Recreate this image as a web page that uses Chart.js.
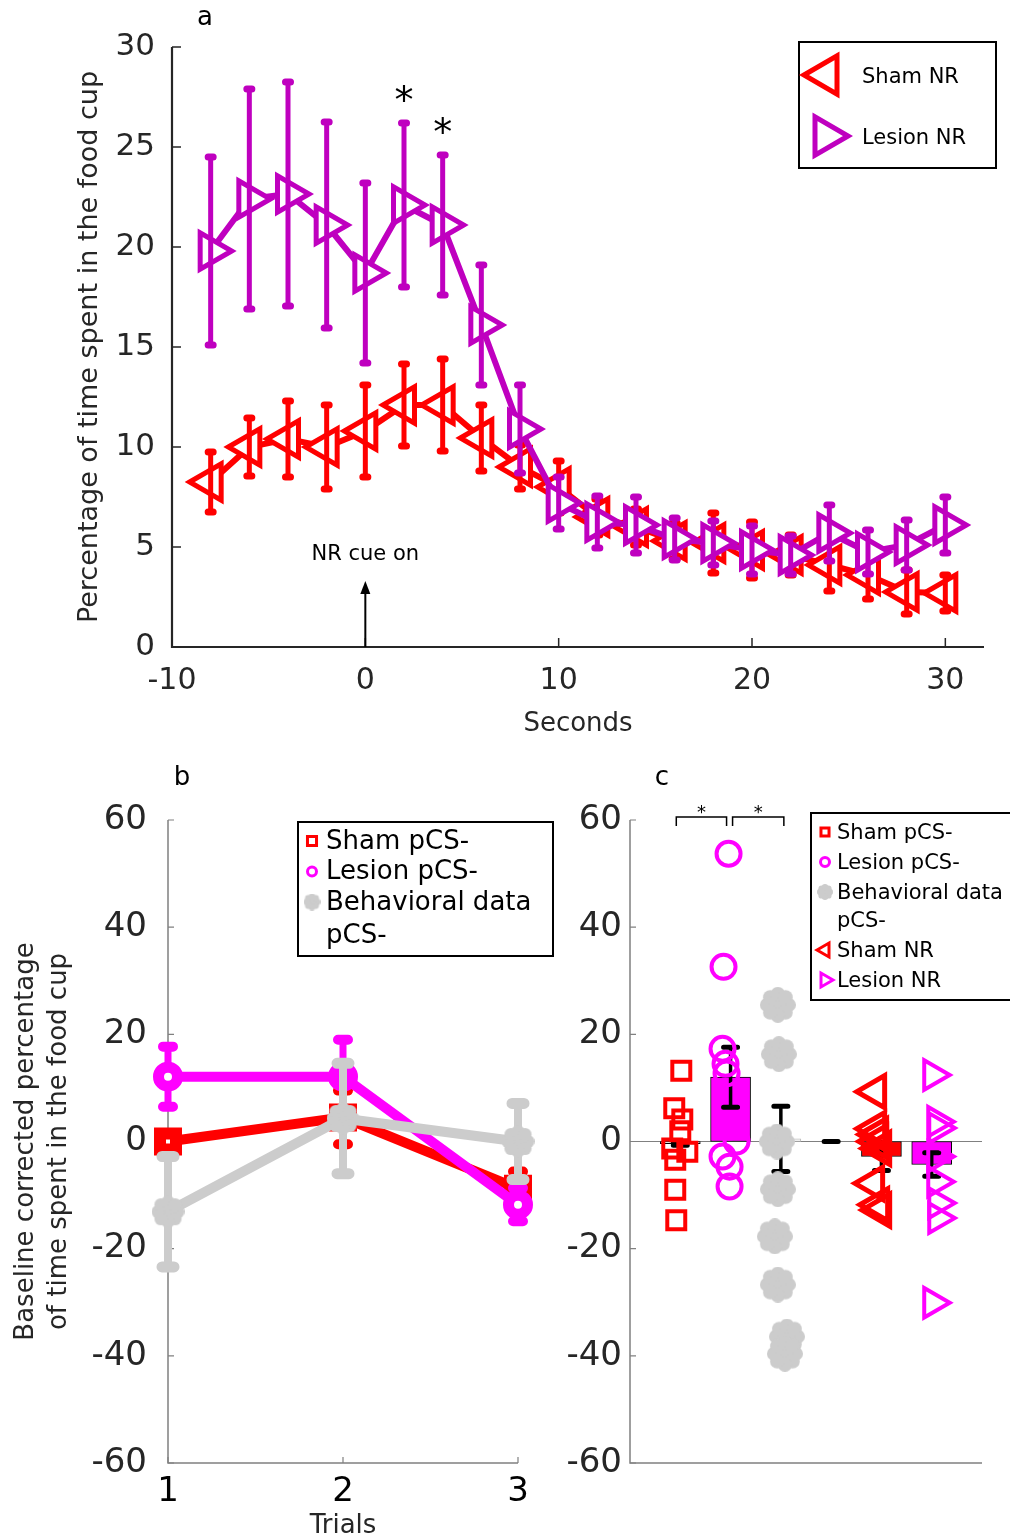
<!DOCTYPE html>
<html>
<head>
<meta charset="utf-8">
<script src="https://cdn.jsdelivr.net/npm/chart.js@4.4.1/dist/chart.umd.min.js"></script>
<style>
  html, body { margin: 0; padding: 0; background: #fff; }
  body { width: 1010px; height: 1539px; position: relative; overflow: hidden; }
  .panel { position: absolute; }
</style>
</head>
<body>
<div class="panel" style="left:0;top:0;width:1010px;height:745px"><canvas id="chartA"></canvas></div>
<div class="panel" style="left:0;top:745px;width:560px;height:794px"><canvas id="chartB"></canvas></div>
<div class="panel" style="left:560px;top:745px;width:450px;height:794px"><canvas id="chartC"></canvas></div>
<script>
// --- a: time in food cup around the NR cue (mean, sem) ---
const seconds = [-8, -6, -4, -2, 0, 2, 4, 6, 8, 10, 12, 14, 16, 18, 20, 22, 24, 26, 28, 30];
const shamNR = [8.25, 10.0, 10.4, 10.0, 10.8, 12.1, 12.1, 10.45, 9.0, 8.0, 6.5, 6.0, 5.3, 5.2, 4.85, 4.6, 4.1, 3.6, 2.75, 2.7];
const shamNRErr = [1.5, 1.45, 1.9, 2.1, 2.3, 2.05, 2.3, 1.65, 1.1, 1.3, 0.9, 0.9, 0.9, 1.5, 1.4, 1.0, 1.3, 1.2, 1.1, 0.9];
const lesionNR = [19.8, 22.4, 22.65, 21.1, 18.7, 22.1, 21.1, 16.1, 10.9, 7.2, 6.25, 6.1, 5.4, 5.2, 4.85, 4.6, 5.7, 4.75, 5.1, 6.1];
const lesionNRErr = [4.7, 5.5, 5.6, 5.15, 4.5, 4.1, 3.5, 3.0, 2.2, 1.3, 1.3, 1.4, 1.05, 1.1, 1.2, 0.95, 1.4, 1.1, 1.25, 1.4];
const secondsTicks = [-10, 0, 10, 20, 30];
const percentTicks = [0, 5, 10, 15, 20, 25, 30];
const starSeconds = [2, 4];
const cueSecond = 0;

// --- b: baseline corrected, per trial ---
const trials = [1, 2, 3];
const shamPCS = [0.0, 4.5, -8.8];
const shamPCSErr = [0.8, 5.0, 3.2];
const lesionPCS = [12.1, 12.1, -11.8];
const lesionPCSErr = [5.6, 6.9, 3.1];
const behavPCS = [-13.1, 4.3, 0.0];
const behavPCSErr = [10.3, 10.3, 7.1];
const trialTicks = [1, 2, 3];
const baselineTicks = [-60, -40, -20, 0, 20, 40, 60];

// --- c: group means and single animals ---
const groupNames = ['Sham pCS-', 'Lesion pCS-', 'Behavioral data pCS-', '', 'Sham NR', 'Lesion NR'];
const groupMean = [-0.4, 12.0, 0.5, 0, -2.8, -4.3];
const groupErr = [0.3, 5.6, 6.1, 0, 2.6, 2.2];
const shamPCSPts = [13.2, 6.2, 4.1, 1.9, -1.3, -1.9, -3.4, -9.0, -14.7];
const shamPCSJit = [0.02, -0.12, 0.04, 0, -0.16, 0.14, -0.1, -0.1, -0.08];
const lesionPCSPts = [53.7, 32.6, 17.3, 14.5, 12.7, 2.8, 0, -2.8, -4.7, -8.4];
const lesionPCSJit = [-0.04, -0.14, -0.16, -0.1, -0.08, -0.02, 0.12, -0.16, -0.02, -0.02];
const behavPCSPts = [25.5, 16.3, 0, -8.9, -17.7, -26.7, -36.4, -39.6];
const behavPCSJit = [-0.06, -0.04, -0.08, -0.06, -0.12, -0.06, 0.12, 0.08];
const shamNRPts = [9.3, 2.4, 1.3, 0, -1.3, -7.8, -11.8, -12.8];
const shamNRJit = [-0.12, -0.12, -0.08, -0.08, -0.02, -0.16, -0.06, -0.02];
const lesionNRPts = [12.4, 3.7, 2.5, -2.8, -7.5, -11.5, -14.3, -30.1];
const lesionNRJit = [0.02, 0.1, 0.12, 0.1, 0.1, 0.12, 0.12, 0.02];
const sigPairs = [[1, 2], [2, 3]];

const FONT = '"DejaVu Sans", Verdana, sans-serif';
const INK = '#262626';
const RED = '#ff0000', PURPLE = '#bf00bf', MAGENTA = '#ff00ff', GREY = '#cccccc';

Chart.defaults.font.family = FONT;
Chart.defaults.color = INK;

// filled "blob" marker used for the behavioral data
function flower(size, color) {
  const c = document.createElement('canvas');
  c.width = c.height = size;
  const g = c.getContext('2d');
  const m = size / 2, lobe = size * 0.2, d = m - lobe;
  g.fillStyle = color;
  g.beginPath(); g.arc(m, m, d * 0.95, 0, Math.PI * 2); g.fill();
  for (let k = 0; k < 8; k++) {
    const a = k * Math.PI / 4;
    g.beginPath(); g.arc(m + d * Math.cos(a), m + d * Math.sin(a), lobe, 0, Math.PI * 2); g.fill();
  }
  return c;
}

function drawMarker(ctx, style, x, y, r, rot, fill, stroke, bw) {
  ctx.save();
  if (style instanceof HTMLCanvasElement) {
    ctx.drawImage(style, x - style.width / 2, y - style.height / 2);
    ctx.restore();
    return;
  }
  ctx.beginPath();
  if (style === 'circle') ctx.arc(x, y, r, 0, Math.PI * 2);
  else if (style === 'rect') { const h = r * Math.SQRT1_2; ctx.rect(x - h, y - h, 2 * h, 2 * h); }
  else {
    let a = rot * Math.PI / 180;
    for (let k = 0; k < 3; k++) {
      const px = x + Math.sin(a) * r, py = y - Math.cos(a) * r;
      if (k) ctx.lineTo(px, py); else ctx.moveTo(px, py);
      a += 2 * Math.PI / 3;
    }
    ctx.closePath();
  }
  ctx.fillStyle = fill; ctx.fill();
  ctx.lineWidth = bw; ctx.strokeStyle = stroke; ctx.stroke();
  ctx.restore();
}

// vertical error bars with round caps, read from dataset.errors
function drawErrors(chart, i) {
  const ds = chart.data.datasets[i];
  if (!ds.errors) return;
  const y = chart.scales.y, ctx = chart.ctx;
  ctx.save();
  ctx.strokeStyle = ds.errColor;
  ctx.lineCap = 'round';
  chart.getDatasetMeta(i).data.forEach((el, k) => {
    const v = ds.data[k].y, e = ds.errors[k];
    const top = y.getPixelForValue(v + e), bot = y.getPixelForValue(v - e);
    ctx.lineWidth = ds.errWidth;
    ctx.beginPath(); ctx.moveTo(el.x, top); ctx.lineTo(el.x, bot); ctx.stroke();
    ctx.lineWidth = ds.capWidth;
    ctx.beginPath();
    ctx.moveTo(el.x - ds.capLen, top); ctx.lineTo(el.x + ds.capLen, top);
    ctx.moveTo(el.x - ds.capLen, bot); ctx.lineTo(el.x + ds.capLen, bot);
    ctx.stroke();
  });
  ctx.restore();
}

const errorBars = {
  id: 'errorBars',
  beforeDatasetDraw(chart, args) { if (!chart.data.datasets[args.index].errOnTop) drawErrors(chart, args.index); },
  afterDatasetDraw(chart, args) { if (chart.data.datasets[args.index].errOnTop) drawErrors(chart, args.index); }
};

// axis lines with ticks pointing into the plot
const matAxes = {
  id: 'matAxes',
  beforeDatasetsDraw(chart, args, o) {
    const { ctx, chartArea: a, scales: { x, y } } = chart;
    ctx.save();
    ctx.strokeStyle = o.color;
    ctx.lineWidth = o.width;
    ctx.beginPath();
    ctx.moveTo(a.left, a.top); ctx.lineTo(a.left, a.bottom); ctx.lineTo(a.right, a.bottom);
    ctx.stroke();
    ctx.lineWidth = o.tickWidth;
    ctx.beginPath();
    y.ticks.forEach(t => { const py = y.getPixelForValue(t.value); ctx.moveTo(a.left, py); ctx.lineTo(a.left + o.tickLen, py); });
    if (o.xTicks) x.ticks.forEach(t => { const px = x.getPixelForValue(t.value); ctx.moveTo(px, a.bottom); ctx.lineTo(px, a.bottom - o.tickLen); });
    ctx.stroke();
    ctx.restore();
  }
};

// boxed legend drawn from the dataset labels and markers
const boxLegend = {
  id: 'boxLegend',
  afterDraw(chart, args, o) {
    const ctx = chart.ctx;
    ctx.save();
    ctx.fillStyle = '#fff';
    ctx.fillRect(o.x, o.y, o.w, o.h);
    ctx.lineWidth = 2; ctx.strokeStyle = '#000';
    ctx.strokeRect(o.x, o.y, o.w, o.h);
    ctx.font = o.size + 'px ' + FONT;
    ctx.textBaseline = 'middle';
    let yy = o.y + o.first;
    chart.data.datasets.forEach(ds => {
      if (!ds.label || ds.type === 'bar') return;
      const style = ds.legendImage || ds.pointStyle;
      drawMarker(ctx, style, o.x + o.mx, yy, o.r[style] || 0, ds.pointRotation || 0, '#fff', ds.pointBorderColor, o.bw);
      const lines = ds.label.split('\n');
      ctx.fillStyle = '#000';
      lines.forEach((line, k) => ctx.fillText(line, o.x + o.tx, yy + o.textDy + k * o.gap));
      yy += o.row + (lines.length - 1) * o.gap;
    });
    ctx.restore();
  }
};

Chart.register(errorBars, matAxes, boxLegend);

function tickFix(list) { return s => { s.ticks = list.map(v => ({ value: v })); }; }
function xy(xs, ys) { return xs.map((v, k) => ({ x: v, y: ys[k] })); }

const base = {
  responsive: true, maintainAspectRatio: false, animation: false, devicePixelRatio: 1,
  events: []
};

// ================= a =================
new Chart(document.getElementById('chartA'), {
  type: 'scatter',
  data: {
    datasets: [
      {
        label: 'Sham NR', data: xy(seconds, shamNR), errors: shamNRErr, errOnTop: true,
        showLine: true, borderColor: RED, borderWidth: 6, clip: false, order: 2,
        pointStyle: 'triangle', pointRotation: -90, pointRadius: 21, pointBorderWidth: 5,
        pointBorderColor: RED, pointBackgroundColor: '#fff',
        errColor: RED, errWidth: 5, capWidth: 7, capLen: 2.5
      },
      {
        label: 'Lesion NR', data: xy(seconds, lesionNR), errors: lesionNRErr, errOnTop: true,
        showLine: true, borderColor: PURPLE, borderWidth: 6, clip: false, order: 1,
        pointStyle: 'triangle', pointRotation: 90, pointRadius: 21, pointBorderWidth: 5,
        pointBorderColor: PURPLE, pointBackgroundColor: '#fff',
        errColor: PURPLE, errWidth: 5, capWidth: 7, capLen: 2.5
      }
    ]
  },
  options: {
    ...base,
    layout: { padding: { left: 0, top: 47, right: 22, bottom: 0 } },
    plugins: {
      legend: { display: false }, tooltip: { enabled: false },
      matAxes: { color: INK, width: 2.2, tickWidth: 1.5, tickLen: 9, xTicks: true },
      boxLegend: { x: 799, y: 42, w: 197, h: 126, first: 33, row: 61, gap: 0, textDy: 3, mx: 27, tx: 63, size: 21, r: { triangle: 22 }, bw: 5 }
    },
    scales: {
      x: {
        type: 'linear', min: -10, max: 32,
        afterBuildTicks: tickFix(secondsTicks),
        afterFit: s => { s.height = 745 - 647; },
        grid: { display: false, drawTicks: false }, border: { display: false },
        ticks: { padding: 16, font: { size: 30 }, color: INK },
        title: { display: true, text: 'Seconds', font: { size: 26 }, color: INK, padding: { top: 0, bottom: 5 } }
      },
      y: {
        min: 0, max: 30,
        afterBuildTicks: tickFix(percentTicks),
        afterFit: s => { s.width = 172; },
        grid: { display: false, drawTicks: false }, border: { display: false },
        ticks: { padding: 17, font: { size: 31 }, color: INK },
        title: { display: true, text: 'Percentage of time spent in the food cup', font: { size: 27 }, color: INK, padding: { top: 74, bottom: 0 } }
      }
    }
  },
  plugins: [{
    id: 'panelA',
    afterDraw(chart) {
      const { ctx, scales: { x, y } } = chart;
      ctx.save();
      ctx.fillStyle = '#000';
      ctx.font = '26px ' + FONT;
      ctx.textAlign = 'center';
      ctx.textBaseline = 'middle';
      ctx.fillText('a', 205, 18);
      // significance stars above the lesion error bars
      ctx.font = '38px ' + FONT;
      ctx.textBaseline = 'alphabetic';
      starSeconds.forEach(s => {
        const k = seconds.indexOf(s);
        const top = y.getPixelForValue(lesionNR[k] + lesionNRErr[k]);
        ctx.fillText('*', x.getPixelForValue(s), top - 10);
      });
      // cue onset arrow
      const cx = x.getPixelForValue(cueSecond);
      const y0 = y.getPixelForValue(0), y1 = y.getPixelForValue(3.3);
      ctx.strokeStyle = '#000'; ctx.lineWidth = 2;
      ctx.beginPath(); ctx.moveTo(cx, y0); ctx.lineTo(cx, y1 + 10); ctx.stroke();
      ctx.beginPath(); ctx.moveTo(cx, y1); ctx.lineTo(cx - 5, y1 + 13); ctx.lineTo(cx + 5, y1 + 13); ctx.closePath(); ctx.fill();
      ctx.font = '21px ' + FONT;
      ctx.textBaseline = 'middle';
      ctx.fillText('NR cue on', cx, y.getPixelForValue(4.6));
      ctx.restore();
    }
  }]
});

// ================= b =================
new Chart(document.getElementById('chartB'), {
  type: 'scatter',
  data: {
    datasets: [
      {
        label: 'Sham pCS-', data: xy(trials, shamPCS), errors: shamPCSErr,
        showLine: true, borderColor: RED, borderWidth: 10, clip: false, order: 3,
        pointStyle: 'rect', pointRadius: 11.3, pointBorderWidth: 12,
        pointBorderColor: RED, pointBackgroundColor: '#fff',
        errColor: RED, errWidth: 7, capWidth: 10, capLen: 5
      },
      {
        label: 'Lesion pCS-', data: xy(trials, lesionPCS), errors: lesionPCSErr,
        showLine: true, borderColor: MAGENTA, borderWidth: 10, clip: false, order: 2,
        pointStyle: 'circle', pointRadius: 9.5, pointBorderWidth: 11,
        pointBorderColor: MAGENTA, pointBackgroundColor: '#fff',
        errColor: MAGENTA, errWidth: 7, capWidth: 10, capLen: 5
      },
      {
        label: 'Behavioral data\npCS-', data: xy(trials, behavPCS), errors: behavPCSErr,
        showLine: true, borderColor: GREY, borderWidth: 10, clip: false, order: 1,
        pointStyle: flower(33, GREY), legendImage: flower(17, GREY), pointRadius: 16,
        pointBorderColor: GREY, pointBackgroundColor: GREY,
        errColor: GREY, errWidth: 8, capWidth: 11, capLen: 6
      }
    ]
  },
  options: {
    ...base,
    layout: { padding: { left: 0, top: 75, right: 42, bottom: 0 } },
    plugins: {
      legend: { display: false }, tooltip: { enabled: false },
      matAxes: { color: '#808080', width: 1.5, tickWidth: 1.2, tickLen: 6, xTicks: true },
      boxLegend: { x: 298, y: 77, w: 255, h: 134, first: 19, row: 30.5, gap: 33, textDy: 1, mx: 14, tx: 28, size: 26, r: { rect: 6.4, circle: 4.5 }, bw: 3 }
    },
    scales: {
      x: {
        type: 'linear', min: 1, max: 3,
        afterBuildTicks: tickFix(trialTicks),
        afterFit: s => { s.height = 794 - 718; },
        grid: { display: false, drawTicks: false }, border: { display: false },
        ticks: { padding: 9, font: { size: 34 }, color: '#000' },
        title: { display: true, text: 'Trials', font: { size: 26 }, color: INK, padding: { top: 0, bottom: -3 } }
      },
      y: {
        min: -60, max: 60,
        afterBuildTicks: tickFix(baselineTicks),
        afterFit: s => { s.width = 168; },
        grid: { display: false, drawTicks: false }, border: { display: false },
        ticks: { padding: 21, font: { size: 34 }, color: INK },
        title: {
          display: true, text: ['Baseline corrected percentage', 'of time spent in the food cup'],
          font: { size: 26, lineHeight: 1.27 }, color: INK, padding: { top: 10, bottom: 0 }
        }
      }
    }
  },
  plugins: [{
    id: 'panelB',
    afterDraw(chart) {
      const ctx = chart.ctx;
      ctx.save();
      ctx.fillStyle = '#000';
      ctx.font = '26px ' + FONT;
      ctx.textAlign = 'center';
      ctx.textBaseline = 'middle';
      ctx.fillText('b', 182, 33);
      ctx.restore();
    }
  }]
});

// ================= c =================
function jitter(pos, pts, jit) { return pts.map((v, k) => ({ x: pos + jit[k], y: v })); }
const posOf = name => groupNames.indexOf(name) + 1;

new Chart(document.getElementById('chartC'), {
  type: 'scatter',
  data: {
    datasets: [
      {
        type: 'bar', label: 'means', data: groupMean.map((v, k) => ({ x: k + 1, y: v })),
        errors: groupErr, errOnTop: true, order: 10,
        barThickness: 40, borderSkipped: false, borderWidth: 1,
        backgroundColor: ['#ffffff', MAGENTA, '#ffffff', 'rgba(0,0,0,0)', RED, MAGENTA],
        borderColor: ['#000000', '#000000', '#bbbbbb', 'rgba(0,0,0,0)', '#000000', '#000000'],
        errColor: '#000', errWidth: 3.5, capWidth: 5, capLen: 7
      },
      {
        label: 'Sham pCS-', data: jitter(posOf('Sham pCS-'), shamPCSPts, shamPCSJit), order: 5, clip: false,
        pointStyle: 'rect', pointRadius: 12.7, pointBorderWidth: 4,
        pointBorderColor: RED, pointBackgroundColor: 'rgba(255,255,255,0)'
      },
      {
        label: 'Lesion pCS-', data: jitter(posOf('Lesion pCS-'), lesionPCSPts, lesionPCSJit), order: 4, clip: false,
        pointStyle: 'circle', pointRadius: 12, pointBorderWidth: 4,
        pointBorderColor: MAGENTA, pointBackgroundColor: 'rgba(255,255,255,0)'
      },
      {
        label: 'Behavioral data\npCS-', data: jitter(posOf('Behavioral data pCS-'), behavPCSPts, behavPCSJit), order: 3, clip: false,
        pointStyle: flower(36, GREY), legendImage: flower(16, GREY), pointRadius: 18,
        pointBorderColor: GREY, pointBackgroundColor: GREY
      },
      {
        label: 'Sham NR', data: jitter(posOf('Sham NR'), shamNRPts, shamNRJit), order: 2, clip: false,
        pointStyle: 'triangle', pointRotation: -90, pointRadius: 18.5, pointBorderWidth: 5,
        pointBorderColor: RED, pointBackgroundColor: 'rgba(255,255,255,0)'
      },
      {
        label: 'Lesion NR', data: jitter(posOf('Lesion NR'), lesionNRPts, lesionNRJit), order: 1, clip: false,
        pointStyle: 'triangle', pointRotation: 90, pointRadius: 17, pointBorderWidth: 4,
        pointBorderColor: MAGENTA, pointBackgroundColor: 'rgba(255,255,255,0)'
      }
    ]
  },
  options: {
    ...base,
    layout: { padding: { left: 0, top: 75, right: 28, bottom: 0 } },
    plugins: {
      legend: { display: false }, tooltip: { enabled: false },
      matAxes: { color: '#808080', width: 1.5, tickWidth: 1.2, tickLen: 6, xTicks: false },
      boxLegend: { x: 251, y: 68, w: 205, h: 187, first: 19, row: 30, gap: 28, textDy: 2, mx: 14, tx: 26, size: 21, r: { rect: 5.7, circle: 4.5, triangle: 8 }, bw: 3 }
    },
    scales: {
      x: {
        type: 'linear', min: 0, max: 7, offset: false,
        afterFit: s => { s.height = 794 - 718; },
        grid: { display: false, drawTicks: false, offset: false }, border: { display: false },
        ticks: { display: false }
      },
      y: {
        min: -60, max: 60,
        afterBuildTicks: tickFix(baselineTicks),
        afterFit: s => { s.width = 70; },
        grid: { display: false, drawTicks: false }, border: { display: false },
        ticks: { padding: 8, font: { size: 34 }, color: INK }
      }
    }
  },
  plugins: [{
    id: 'zeroLine',
    beforeDatasetsDraw(chart) {
      const { ctx, chartArea: a, scales: { y } } = chart;
      const py = y.getPixelForValue(0);
      ctx.save();
      ctx.strokeStyle = '#808080'; ctx.lineWidth = 1.2;
      ctx.beginPath(); ctx.moveTo(a.left, py); ctx.lineTo(a.right, py); ctx.stroke();
      ctx.restore();
    }
  }, {
    id: 'panelC',
    afterDraw(chart) {
      const { ctx, scales: { x, y } } = chart;
      ctx.save();
      ctx.fillStyle = '#000';
      ctx.font = '26px ' + FONT;
      ctx.textAlign = 'center';
      ctx.textBaseline = 'middle';
      ctx.fillText('c', 102, 33);
      // brackets between compared groups
      const yt = y.getPixelForValue(60) - 3, yb = y.getPixelForValue(60) + 6;
      ctx.strokeStyle = '#000'; ctx.lineWidth = 1.5;
      ctx.font = '18px ' + FONT;
      ctx.textBaseline = 'alphabetic';
      sigPairs.forEach(([g1, g2], k) => {
        const x1 = x.getPixelForValue(g1) + (k ? 2 : -4), x2 = x.getPixelForValue(g2) + (k ? 3 : -4);
        ctx.beginPath();
        ctx.moveTo(x1, yb); ctx.lineTo(x1, yt); ctx.lineTo(x2, yt); ctx.lineTo(x2, yb);
        ctx.stroke();
        ctx.fillText('*', (x1 + x2) / 2, yt + 1);
      });
      ctx.restore();
    }
  }]
});
</script>
</body>
</html>
